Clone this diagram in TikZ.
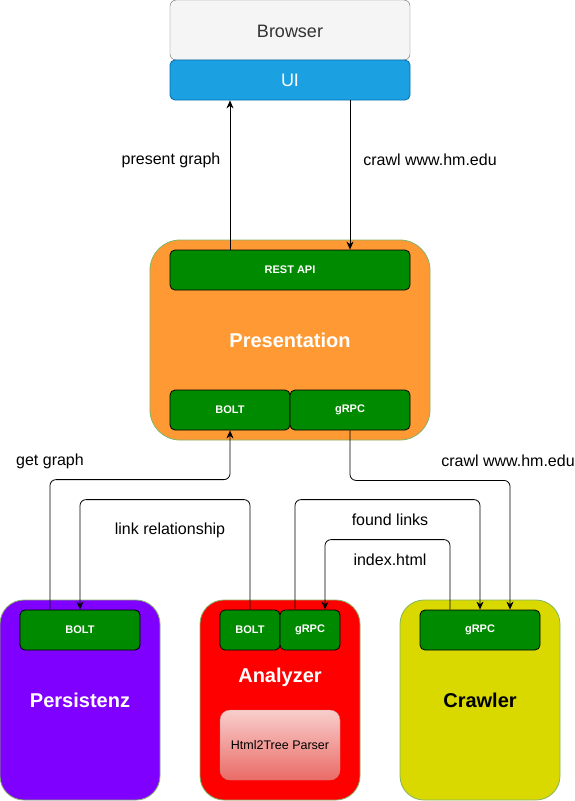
\documentclass[tikz,border=0pt]{standalone}
\usepackage{fontspec}
\setmainfont{Liberation Sans}
\usetikzlibrary{arrows.meta}

\definecolor{uiblue}{HTML}{1BA1E2}
\definecolor{uiborder}{HTML}{006EAF}
\definecolor{portgreen}{HTML}{008A00}
\definecolor{svcborder}{HTML}{82B366}
\definecolor{presorange}{HTML}{FF9933}
\definecolor{perspurple}{HTML}{7F00FF}
\definecolor{crawlyellow}{HTML}{D9D900}
\definecolor{parsertop}{HTML}{F8CECC}
\definecolor{parserbottom}{HTML}{EA6B66}
\definecolor{parserborder}{HTML}{B85450}

\tikzset{
  service/.style={draw=svcborder, line width=0.8pt, rounded corners=24pt, minimum width=160pt, minimum height=200pt, inner sep=0pt},
  port/.style={draw=black, fill=portgreen, line width=0.8pt, rounded corners=5pt, text=white, font=\fontsize{11}{13}\selectfont\bfseries, minimum width=120pt, minimum height=40pt, inner sep=0pt},
  title/.style={text=white, font=\fontsize{20}{24}\selectfont\bfseries},
  arr/.style={-{Stealth[length=8pt,width=7pt,inset=2.5pt]}, line width=0.8pt, rounded corners=6pt},
  lbl/.style={font=\fontsize{16}{19}\selectfont}
}

\begin{document}
\begin{tikzpicture}[x=1pt,y=-1pt]
    \useasboundingbox (0,0) rectangle (575,801);

    \node[draw=black!60, fill=black!4, rounded corners=6pt, minimum width=240pt, minimum height=60pt, inner sep=0pt] (browser) at (290,30) {};
    \node[text=black!80, font=\fontsize{18}{21}\selectfont] (browsertext) at (290,31) {Browser};
    \node[draw=uiborder, fill=uiblue, rounded corners=5pt, minimum width=240pt, minimum height=40pt, inner sep=0pt,
          text=white, font=\fontsize{18}{21}\selectfont, line width=0.8pt] (ui) at (290,80) {UI};

    \node[service, fill=presorange, minimum width=280pt, rounded corners=30pt] (pres) at (290,340) {};
    \node[title] (prestext) at (290,340) {Presentation};
    \node[port, minimum width=240pt] (rest) at (290,270) {REST API};
    \node[port] (presbolt) at (230,410) {BOLT};
    \node[port] (presgrpc) at (350,410) {gRPC};

    \node[service, fill=perspurple] (pers) at (80,700) {};
    \node[title] (perstext) at (80,700) {Persistenz};
    \node[port] (persbolt) at (80,630) {BOLT};

    \node[service, fill=red] (anal) at (280,700) {};
    \node[title] (analtext) at (280,677) {Analyzer};
    \node[port, minimum width=60pt] (anbolt) at (250,630) {BOLT};
    \node[port, minimum width=60pt] (angrpc) at (310,630) {gRPC};
    \node[draw=parserborder!70, top color=parsertop, bottom color=parserbottom, rounded corners=10pt, minimum width=120pt, minimum height=70pt,
          inner sep=0pt, font=\fontsize{12.5}{15}\selectfont] (parser) at (280,745) {Html2Tree Parser};

    \node[service, fill=crawlyellow] (crawl) at (480,700) {};
    \node[title, text=black] (crawltext) at (480,700) {Crawler};
    \node[port] (crgrpc) at (480,630) {gRPC};

    \draw[arr] ([xshift=-60pt]rest.north) -- ([xshift=-60pt]ui.south);
    \draw[arr] ([xshift=60pt]ui.south) -- ([xshift=60pt]rest.north);
    \draw[arr] ([xshift=-30pt]persbolt.north) -- ++(0,-130) -| (presbolt.south);
    \draw[arr] (presgrpc.south) -- ++(0,50) -| ([xshift=30pt]crgrpc.north);
    \draw[arr] (anbolt.north) -- ++(0,-110) -| (persbolt.north);
    \draw[arr] ([xshift=-15pt]angrpc.north) -- ++(0,-110) -| (crgrpc.north);
    \draw[arr] ([xshift=-30pt]crgrpc.north) -- ++(0,-70) -| ([xshift=15pt]angrpc.north);

    \node[lbl] (lpresent) at (171,160) {present graph};
    \node[lbl] (lcrawlup) at (430,160) {crawl www.hm.edu};
    \node[lbl] (lget) at (50,461) {get graph};
    \node[lbl] (lcrawldown) at (508,461) {crawl www.hm.edu};
    \node[lbl] (llink) at (170,530) {link relationship};
    \node[lbl] (lfound) at (390,520) {found links};
    \node[lbl] (lindex) at (390,560) {index.html};
\end{tikzpicture}
\end{document}
